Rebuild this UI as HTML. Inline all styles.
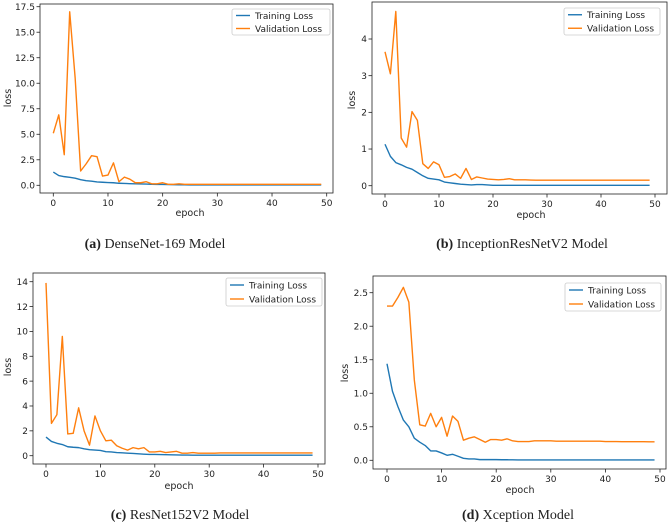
<!DOCTYPE html>
<html><head><meta charset="utf-8"><style>
html,body{margin:0;padding:0;background:#fff;}
svg{display:block;}
.tk{font-family:"DejaVu Sans",sans-serif;font-size:9px;fill:#222;}
.lb{font-family:"DejaVu Sans",sans-serif;font-size:9.5px;fill:#222;}
.cap{font-family:"Liberation Serif",serif;font-size:14px;fill:#222;}
</style></head><body>
<svg id="fig" width="669" height="525" viewBox="0 0 669 525"></svg>
<script>
const epochs = Array.from({length:50},(_,i)=>i);
const xTicks = [0,10,20,30,40,50];
const trainA = [1.3,0.95,0.85,0.78,0.7,0.55,0.45,0.4,0.33,0.3,0.27,0.25,0.2,0.18,0.16,0.15,0.13,0.12,0.1,0.09,0.08,0.07,0.06,0.05,0.05,0.04,0.04,0.04,0.04,0.04,0.04,0.04,0.04,0.04,0.04,0.04,0.04,0.04,0.04,0.04,0.04,0.04,0.04,0.04,0.04,0.04,0.04,0.04,0.04,0.04];
const valA = [5.1,6.9,3.0,17.0,10.5,1.4,2.1,2.9,2.8,0.9,1.0,2.2,0.35,0.8,0.6,0.25,0.25,0.35,0.15,0.15,0.25,0.1,0.1,0.15,0.1,0.1,0.1,0.1,0.1,0.1,0.1,0.1,0.1,0.1,0.1,0.1,0.1,0.1,0.1,0.1,0.1,0.1,0.1,0.1,0.1,0.1,0.1,0.1,0.1,0.1];
const yTicksA = [0,2.5,5,7.5,10,12.5,15,17.5];
const trainB = [1.13,0.8,0.63,0.57,0.5,0.45,0.36,0.27,0.2,0.18,0.16,0.1,0.08,0.06,0.04,0.03,0.02,0.03,0.03,0.02,0.01,0.01,0.01,0.01,0.01,0.01,0.01,0.01,0.01,0.01,0.01,0.01,0.01,0.01,0.01,0.01,0.01,0.01,0.01,0.01,0.01,0.01,0.01,0.01,0.01,0.01,0.01,0.01,0.01,0.01];
const valB = [3.65,3.05,4.75,1.3,1.05,2.02,1.78,0.6,0.47,0.65,0.57,0.23,0.25,0.32,0.2,0.47,0.17,0.24,0.21,0.18,0.17,0.16,0.17,0.19,0.16,0.16,0.16,0.155,0.15,0.15,0.15,0.15,0.15,0.15,0.15,0.15,0.15,0.15,0.15,0.15,0.15,0.15,0.15,0.15,0.15,0.15,0.15,0.15,0.15,0.15];
const yTicksB = [0,1,2,3,4];
const trainC = [1.5,1.15,1.0,0.9,0.72,0.68,0.65,0.55,0.48,0.45,0.42,0.32,0.3,0.25,0.23,0.2,0.18,0.15,0.12,0.1,0.1,0.09,0.08,0.07,0.06,0.05,0.05,0.04,0.04,0.04,0.04,0.04,0.04,0.04,0.04,0.04,0.04,0.04,0.04,0.04,0.04,0.04,0.04,0.04,0.04,0.04,0.04,0.04,0.04,0.04];
const valC = [13.9,2.6,3.3,9.6,1.75,1.8,3.85,2.0,0.85,3.2,2.0,1.2,1.25,0.8,0.6,0.45,0.65,0.55,0.65,0.3,0.3,0.35,0.25,0.3,0.35,0.2,0.2,0.25,0.2,0.2,0.2,0.2,0.22,0.22,0.22,0.22,0.22,0.22,0.22,0.22,0.22,0.22,0.22,0.22,0.22,0.22,0.22,0.22,0.22,0.22];
const yTicksC = [0,2,4,6,8,10,12,14];
const trainD = [1.44,1.03,0.8,0.6,0.5,0.33,0.27,0.22,0.14,0.14,0.11,0.075,0.09,0.06,0.03,0.02,0.02,0.01,0.01,0.01,0.01,0.008,0.008,0.007,0.006,0.006,0.006,0.006,0.006,0.006,0.005,0.005,0.005,0.005,0.005,0.005,0.005,0.005,0.005,0.005,0.005,0.005,0.005,0.005,0.005,0.005,0.005,0.005,0.005,0.005];
const valD = [2.3,2.3,2.43,2.58,2.36,1.2,0.53,0.51,0.7,0.5,0.64,0.36,0.66,0.58,0.3,0.33,0.35,0.31,0.27,0.31,0.31,0.3,0.32,0.29,0.28,0.28,0.28,0.29,0.29,0.29,0.29,0.285,0.285,0.285,0.285,0.285,0.285,0.285,0.285,0.285,0.28,0.28,0.28,0.278,0.278,0.278,0.278,0.278,0.275,0.275];
const yTicksD = [0,0.5,1.0,1.5,2.0,2.5];

const NS='http://www.w3.org/2000/svg';
const svg=document.getElementById('fig');
function mk(tag,attrs,parent){const e=document.createElementNS(NS,tag);for(const k in attrs)e.setAttribute(k,attrs[k]);(parent||svg).appendChild(e);return e;}

const panels=[
 {id:'a',train:trainA,val:valA,yt:yTicksA,dec:1,box:[40,4,333,193],x0:53.3,x50:326.7,y0:185.3,yv:17.5,yp:6.7,leg:[232,9,330,35],ep:[190,216],loss:[8,98],cap:[155,248],bold:'(a)',rest:' DenseNet-169 Model'},
 {id:'b',train:trainB,val:valB,yt:yTicksB,dec:0,box:[372,2,667,194],x0:385,x50:655,y0:185.7,yv:4,yp:39,leg:[564,8,660,35],ep:[531,218],loss:[352,100],cap:[522,248],bold:'(b)',rest:' InceptionResNetV2  Model'},
 {id:'c',train:trainC,val:valC,yt:yTicksC,dec:0,box:[33,273,325,464],x0:46,x50:318,y0:455.7,yv:14,yp:281.7,leg:[226,278,322,306],ep:[179,489],loss:[8,367],cap:[180,519],bold:'(c)',rest:' ResNet152V2  Model'},
 {id:'d',train:trainD,val:valD,yt:yTicksD,dec:1,box:[373,276,666,469],x0:387,x50:660,y0:460.3,yv:2.5,yp:292.7,leg:[565,283,661,311],ep:[520,493],loss:[345,373],cap:[518,519],bold:'(d)',rest:' Xception Model'}
];

panels.forEach(p=>{
 const g=mk('g',{});
 
 
 const xs=v=>p.x0+(p.x50-p.x0)*v/50;
 const ys=v=>p.y0+(p.yp-p.y0)*v/p.yv;
 const [l,t,r,b]=p.box;
 // ticks
 xTicks.forEach(v=>{
  const x=xs(v);
  mk('line',{x1:x,x2:x,y1:b,y2:b+3.5,stroke:'#222','stroke-width':0.8},g);
  const tx=mk('text',{x:x,y:b+13,'text-anchor':'middle',class:'tk'},g);
  tx.textContent=v;
  
  
 });
 p.yt.forEach(v=>{
  const y=ys(v);
  mk('line',{x1:l-3.5,x2:l,y1:y,y2:y,stroke:'#222','stroke-width':0.8},g);
  const tx=mk('text',{x:l-5,y:y+3.2,'text-anchor':'end',class:'tk'},g);
  tx.textContent=v.toFixed(p.dec);
  
  
 });
 const mkLine=(arr,color,name)=>{
  const d=arr.map((v,i)=>(i?'L':'M')+xs(epochs[i]).toFixed(2)+','+ys(v).toFixed(2)).join(' ');
  const pa=mk('path',{d:d,fill:'none',stroke:color,'stroke-width':1.4,'stroke-linejoin':'round'},g);
  
  
 };
 mkLine(p.train,'#1f77b4','training-loss-line');
 mkLine(p.val,'#ff7f0e','validation-loss-line');
 const frame=mk('rect',{x:l,y:t,width:r-l,height:b-t,fill:'none',stroke:'#222','stroke-width':0.8},g);
 
 
 // legend
 const [ll,lt,lr,lb]=p.leg;
 const lg=mk('g',{},g);
 
 
 mk('rect',{x:ll,y:lt,width:lr-ll,height:lb-lt,fill:'#fff',stroke:'#ccc','stroke-width':0.8,rx:2},lg);
 const rowH=(lb-lt)/2;
 [['Training Loss','#1f77b4'],['Validation Loss','#ff7f0e']].forEach((e,i)=>{
  const y=lt+rowH*(i+0.5);
  mk('line',{x1:ll+4,x2:ll+18,y1:y,y2:y,stroke:e[1],'stroke-width':1.4},lg);
  const tx=mk('text',{x:ll+23,y:y+3.3,class:'tk'},lg);
  tx.textContent=e[0];
  
  
 });
 const ep=mk('text',{x:p.ep[0],y:p.ep[1],'text-anchor':'middle',class:'lb'},g);
 ep.textContent='epoch';
 
 
 const lo=mk('text',{x:p.loss[0]+3,y:p.loss[1],'text-anchor':'middle',class:'lb',transform:'rotate(-90 '+(p.loss[0]+3)+' '+p.loss[1]+')'},g);
 lo.textContent='loss';
 
 
 const cap=mk('text',{x:p.cap[0],y:p.cap[1],'text-anchor':'middle',class:'cap'},g);
 const bt=mk('tspan',{'font-weight':'bold'},cap); bt.textContent=p.bold;
 const rt=mk('tspan',{},cap); rt.textContent=p.rest;
 
 
});
</script>
</body></html>
